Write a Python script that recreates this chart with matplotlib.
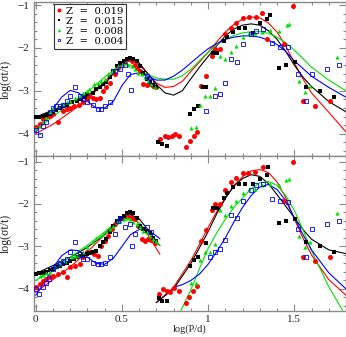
import numpy as np
import matplotlib
matplotlib.use("Agg")
import matplotlib.pyplot as plt
from matplotlib.ticker import MultipleLocator

plt.rcParams['font.family'] = ['Liberation Serif', 'DejaVu Serif']
plt.rcParams['mathtext.fontset'] = 'stix'

labels = ["Z  =  0.019", "Z  =  0.015", "Z  =  0.008", "Z  =  0.004"]
colors = ["#ff0000", "#000000", "#00e000", "#0000ff"]

# ---------------- TOP PANEL: points ----------------
top_red_x = [0.004, 0.023, 0.043, 0.062, 0.081, 0.10, 0.13, 0.16, 0.18, 0.20, 0.22, 0.25, 0.275, 0.295,
             0.31, 0.33, 0.35, 0.37, 0.39, 0.41, 0.43, 0.46, 0.48, 0.50, 0.52, 0.54, 0.556, 0.576, 0.59,
             0.605, 0.624, 0.643, 0.663, 0.682, 0.70,
             0.72, 0.75, 0.77, 0.79, 0.81, 0.83, 0.87, 0.895, 0.92, 0.935, 0.96, 0.99, 1.02, 1.04, 1.07,
             1.10, 1.135, 1.16, 1.20, 1.24, 1.28, 1.31, 1.34, 1.44, 1.49, 1.55, 1.62, 1.71]
top_red_y = [-3.85, -3.77, -3.66, -3.62, -3.58, -3.54, -3.73, -3.46, -3.42, -3.39, -3.35, -3.33, -3.27, -3.19,
             -3.12, -3.17, -3.19, -3.16, -3.00, -2.90, -2.81, -2.62, -2.46, -2.39, -2.31, -2.27, -2.31, -2.39, -2.46,
             -2.54, -2.85, -2.87, -2.85, -2.89, -2.92,
             -4.12, -4.05, -4.07, -4.05, -4.00, -4.05, -4.30, -4.16, -4.05, -3.96, -2.89, -2.66, -2.20, -2.02, -2.02,
             -1.67, -1.53, -1.42, -1.30, -1.28, -1.28, -1.18, -1.79, -1.92, -1.02, -3.24, -3.35, -3.24]

top_blk_x = [0.0, 0.02, 0.04, 0.062, 0.081, 0.10, 0.12, 0.14, 0.16, 0.18, 0.21, 0.24, 0.265, 0.285, 0.30,
             0.33, 0.35, 0.37, 0.39, 0.41, 0.43, 0.45, 0.47, 0.49, 0.51, 0.53, 0.546, 0.566, 0.585, 0.605,
             0.624, 0.643, 0.663, 0.68, 0.70,
             0.71, 0.73, 0.76, 0.895, 0.92, 0.94, 0.97, 0.99, 1.03, 1.05, 1.09, 1.11, 1.145, 1.18, 1.215,
             1.26, 1.30, 1.34, 1.36, 1.41, 1.45, 1.505, 1.57, 1.65, 1.73]
top_blk_y = [-3.62, -3.62, -3.59, -3.56, -3.54, -3.50, -3.44, -3.39, -3.35, -3.33, -3.27, -3.23, -3.19, -3.14, -3.08,
             -3.04, -2.96, -2.90, -2.85, -2.79, -2.69, -2.54, -2.42, -2.35, -2.31, -2.27, -2.23, -2.25, -2.31, -2.42,
             -2.58, -2.73, -2.79, -2.87, -2.92,
             -4.19, -4.23, -4.28, -3.54, -3.42, -3.35, -2.92, -2.92, -2.11, -2.11, -1.85, -1.74, -1.62, -1.53, -1.53,
             -1.65, -1.42, -1.33, -1.23, -2.46, -2.41, -2.34, -2.92, -3.01, -3.15]

top_grn_x = [0.004, 0.023, 0.043, 0.062, 0.081, 0.10, 0.13, 0.16, 0.18, 0.20, 0.23, 0.256, 0.275, 0.295, 0.31,
             0.34, 0.36, 0.38, 0.40, 0.42, 0.44, 0.46, 0.48, 0.50, 0.52, 0.537, 0.556, 0.576, 0.595, 0.614,
             0.634, 0.653, 0.67, 0.69,
             0.90, 0.93, 0.955, 0.98, 1.01, 1.04, 1.07, 1.10, 1.13, 1.16, 1.20, 1.24, 1.27, 1.31, 1.36,
             1.41, 1.46, 1.47, 1.53, 1.56, 1.59, 1.75]
top_grn_y = [-3.87, -3.81, -3.73, -3.64, -3.50, -3.42, -3.36, -3.31, -3.27, -3.23, -3.16, -3.12, -3.04, -3.00, -2.96,
             -2.85, -2.81, -2.77, -2.73, -2.62, -2.54, -2.46, -2.42, -2.39, -2.35, -2.39, -2.42, -2.50, -2.58, -2.62,
             -2.69, -2.77, -2.85, -2.90,
             -3.87, -3.84, -3.33, -3.12, -3.12, -2.94, -2.18, -2.27, -2.09, -1.95, -1.74, -1.65, -1.65, -1.62, -1.58,
             -1.60, -1.46, -1.44, -2.78, -3.03, -2.89, -2.22]

top_blu_x = [0.004, 0.023, 0.043, 0.062, 0.081, 0.10, 0.12, 0.14, 0.16, 0.18, 0.20, 0.23, 0.256, 0.275, 0.30,
             0.33, 0.36, 0.38, 0.40, 0.43, 0.46, 0.49, 0.52, 0.535, 0.55, 0.643, 0.67,
             0.99, 1.04, 1.07, 1.10, 1.135, 1.17, 1.20, 1.25, 1.28, 1.32, 1.37, 1.42, 1.465, 1.52, 1.57,
             1.60, 1.69, 1.76]
top_blu_y = [-3.92, -4.04, -3.81, -3.73, -3.50, -3.39, -3.36, -3.35, -3.33, -3.23, -3.12, -2.92, -3.12, -3.19, -3.27,
             -3.33, -3.42, -3.42, -3.35, -3.27, -2.54, -2.50, -2.39, -2.62, -2.99, -2.66, -2.77,
             -3.47, -3.12, -3.08, -2.81, -2.27, -2.32, -1.92, -1.67, -1.60, -1.55, -1.88, -1.97, -1.99, -2.60, -3.24,
             -2.60, -2.50, -2.39]

# ---------------- TOP PANEL: fitted curves ----------------
top_red_cx = [0.0, 0.1, 0.2, 0.3, 0.4, 0.45, 0.5, 0.55, 0.6, 0.65, 0.7, 0.75, 0.8, 0.85, 0.9, 0.95, 1.0, 1.05,
              1.1, 1.15, 1.2, 1.25, 1.3, 1.35, 1.4, 1.45, 1.5, 1.55, 1.6, 1.7, 1.8]
top_red_cy = [-4.00, -3.78, -3.50, -3.20, -2.80, -2.55, -2.35, -2.28, -2.38, -2.60, -2.82, -2.92, -2.90, -2.78,
              -2.55, -2.33, -2.10, -1.86, -1.63, -1.45, -1.33, -1.28, -1.30, -1.42, -1.63, -1.95, -2.35, -2.72,
              -3.05, -3.50, -3.96]

top_blk_cx = [0.0, 0.1, 0.2, 0.3, 0.4, 0.45, 0.5, 0.55, 0.6, 0.65, 0.7, 0.75, 0.8, 0.85, 0.9, 0.95, 1.0, 1.05,
              1.1, 1.15, 1.2, 1.25, 1.3, 1.35, 1.4, 1.45, 1.5, 1.55, 1.6, 1.7, 1.8]
top_blk_cy = [-3.61, -3.45, -3.27, -3.10, -2.85, -2.60, -2.33, -2.25, -2.35, -2.60, -2.85, -3.05, -3.10, -3.00,
              -2.72, -2.45, -2.20, -1.95, -1.72, -1.56, -1.47, -1.44, -1.47, -1.60, -1.80, -2.08, -2.40, -2.68,
              -2.90, -3.25, -3.49]

top_grn_cx = [0.0, 0.1, 0.2, 0.3, 0.4, 0.45, 0.5, 0.55, 0.6, 0.65, 0.7, 0.75, 0.8, 0.85, 0.9, 0.95, 1.0, 1.05,
              1.1, 1.15, 1.2, 1.25, 1.3, 1.35, 1.4, 1.45, 1.5, 1.55, 1.6, 1.7, 1.8]
top_grn_cy = [-3.93, -3.60, -3.30, -3.03, -2.68, -2.52, -2.40, -2.40, -2.52, -2.62, -2.70, -2.73, -2.73, -2.65,
              -2.50, -2.30, -2.10, -1.93, -1.80, -1.71, -1.65, -1.62, -1.62, -1.66, -1.75, -1.88, -2.05, -2.25,
              -2.45, -2.75, -3.00]

top_blu_cx = [0.0, 0.05, 0.1, 0.15, 0.2, 0.25, 0.3, 0.35, 0.4, 0.45, 0.5, 0.55, 0.6, 0.65, 0.7, 0.75, 0.8, 0.85,
              0.9, 0.95, 1.0, 1.05, 1.1, 1.15, 1.2, 1.25, 1.3, 1.35, 1.4, 1.45, 1.5, 1.55, 1.6, 1.7, 1.8]
top_blu_cy = [-3.96, -3.70, -3.42, -3.15, -2.99, -3.05, -3.25, -3.40, -3.40, -3.25, -2.88, -2.62, -2.58, -2.66,
              -2.75, -2.75, -2.66, -2.52, -2.35, -2.18, -2.02, -1.90, -1.80, -1.75, -1.72, -1.72, -1.75, -1.82,
              -1.92, -2.08, -2.30, -2.48, -2.66, -2.92, -3.15]

# ---------------- BOTTOM PANEL: points ----------------
bot_red_x = [0.004, 0.023, 0.043, 0.062, 0.081, 0.10, 0.13, 0.16, 0.18, 0.20, 0.23, 0.256, 0.275, 0.30, 0.32,
             0.34, 0.36, 0.38, 0.40, 0.42, 0.44, 0.46, 0.48, 0.50, 0.52, 0.537, 0.556, 0.576, 0.595, 0.614,
             0.634, 0.653, 0.67, 0.69,
             0.715, 0.74, 0.76, 0.78, 0.80, 0.83, 0.87, 0.89, 0.915, 0.935, 0.96, 0.99, 1.02, 1.04, 1.07,
             1.10, 1.135, 1.16, 1.20, 1.23, 1.27, 1.32, 1.44, 1.49, 1.55, 1.62, 1.71]
bot_red_y = [-3.96, -3.89, -3.81, -3.77, -3.73, -3.69, -3.65, -3.61, -3.73, -3.48, -3.45, -3.42, -3.26, -3.14, -3.14,
             -3.18, -3.22, -2.98, -2.87, -2.75, -2.59, -2.47, -2.40, -2.32, -2.28, -2.28, -2.32, -2.36, -2.51, -2.83,
             -2.87, -2.83, -2.85, -2.91,
             -4.11, -4.01, -4.04, -4.08, -3.99, -4.04, -4.34, -4.18, -4.06, -3.94, -2.86, -2.62, -2.15, -2.01, -2.01,
             -1.66, -1.49, -1.38, -1.26, -1.26, -1.24, -1.14, -1.92, -1.00, -3.24, -3.35, -3.24]

bot_blk_x = [0.0, 0.02, 0.04, 0.062, 0.081, 0.10, 0.12, 0.14, 0.16, 0.18, 0.20, 0.22, 0.24, 0.256, 0.275,
             0.295, 0.31, 0.33, 0.35, 0.37, 0.39, 0.41, 0.43, 0.45, 0.47, 0.49, 0.51, 0.527, 0.546, 0.566,
             0.585, 0.605, 0.624, 0.643, 0.663, 0.68, 0.70,
             0.715, 0.73, 0.76, 0.895, 0.92, 0.94, 0.99, 1.03, 1.05, 1.09, 1.11, 1.145, 1.18, 1.215,
             1.26, 1.30, 1.34, 1.35, 1.41, 1.45, 1.505, 1.57, 1.65, 1.73]
bot_blk_y = [-3.65, -3.63, -3.62, -3.59, -3.56, -3.53, -3.49, -3.45, -3.42, -3.38, -3.34, -3.30, -3.26, -3.22, -3.20,
             -3.18, -3.16, -3.14, -3.10, -2.98, -2.90, -2.83, -2.67, -2.51, -2.40, -2.32, -2.28, -2.22, -2.20, -2.22,
             -2.32, -2.51, -2.59, -2.63, -2.69, -2.79, -2.88,
             -4.22, -4.29, -4.29, -3.45, -3.33, -3.24, -2.93, -2.10, -2.10, -1.85, -1.73, -1.59, -1.52, -1.52,
             -1.54, -1.40, -1.31, -1.14, -2.44, -2.39, -2.36, -2.90, -3.00, -3.14]

bot_grn_x = [0.023, 0.043, 0.062, 0.081, 0.11, 0.14, 0.17, 0.21, 0.23, 0.246, 0.275, 0.30, 0.33, 0.35, 0.37,
             0.39, 0.41, 0.43, 0.45, 0.47, 0.49, 0.51, 0.527, 0.546, 0.566, 0.585, 0.605, 0.624, 0.643, 0.663,
             0.68, 0.70,
             0.90, 0.93, 0.955, 0.98, 1.01, 1.04, 1.07, 1.10, 1.13, 1.16, 1.20, 1.24, 1.27, 1.31, 1.36,
             1.41, 1.45, 1.47, 1.53, 1.56, 1.59, 1.75]
bot_grn_y = [-3.69, -3.67, -3.63, -3.59, -3.49, -3.42, -3.34, -3.26, -3.22, -3.20, -3.14, -3.02, -2.90, -2.79, -2.75,
             -2.71, -2.63, -2.59, -2.51, -2.43, -2.40, -2.36, -2.32, -2.36, -2.43, -2.47, -2.55, -2.63, -2.67, -2.75,
             -2.83, -2.88,
             -3.87, -3.85, -3.31, -3.12, -3.12, -2.95, -2.15, -2.25, -2.04, -1.92, -1.73, -1.64, -1.64, -1.56, -1.52,
             -1.56, -1.44, -1.42, -2.76, -3.02, -2.90, -2.22]

bot_blu_x = [0.004, 0.02, 0.04, 0.06, 0.078, 0.10, 0.12, 0.14, 0.16, 0.18, 0.20, 0.23, 0.256, 0.275, 0.30,
             0.33, 0.36, 0.38, 0.40, 0.43, 0.46, 0.48, 0.49, 0.52, 0.546, 0.556, 0.576, 0.643, 0.67,
             1.01, 1.04, 1.07, 1.10, 1.135, 1.17, 1.20, 1.25, 1.28, 1.32, 1.37, 1.42, 1.465, 1.52, 1.57,
             1.60, 1.69, 1.76]
bot_blu_y = [-4.00, -4.11, -3.96, -3.85, -3.77, -3.53, -3.45, -3.38, -3.34, -3.30, -3.14, -2.90, -3.18, -3.30, -3.30,
             -3.38, -3.42, -3.42, -3.38, -3.26, -2.71, -2.40, -2.32, -2.55, -2.47, -2.98, -2.71, -2.55, -2.67,
             -3.26, -3.14, -3.07, -2.84, -2.27, -2.32, -1.92, -1.66, -1.56, -1.54, -1.89, -1.92, -1.96, -2.60, -3.24,
             -2.60, -2.48, -2.39]

# ---------------- BOTTOM PANEL: fitted curves (two segments each) ----------------
bot_red_c1x = [0.0, 0.1, 0.2, 0.3, 0.4, 0.45, 0.5, 0.55, 0.6, 0.65, 0.7, 0.72]
bot_red_c1y = [-4.08, -3.78, -3.48, -3.13, -2.72, -2.50, -2.33, -2.30, -2.45, -2.72, -3.05, -3.18]
bot_blk_c1x = [0.0, 0.1, 0.2, 0.3, 0.4, 0.45, 0.5, 0.55, 0.6, 0.65, 0.7, 0.72]
bot_blk_c1y = [-3.64, -3.45, -3.26, -3.02, -2.72, -2.50, -2.30, -2.25, -2.35, -2.60, -2.88, -2.98]
bot_grn_c1x = [0.0, 0.1, 0.2, 0.3, 0.4, 0.45, 0.5, 0.55, 0.6, 0.65, 0.7, 0.72]
bot_grn_c1y = [-3.80, -3.52, -3.25, -2.97, -2.66, -2.48, -2.35, -2.33, -2.45, -2.65, -2.88, -2.97]
bot_blu_c1x = [0.0, 0.05, 0.1, 0.15, 0.2, 0.25, 0.3, 0.35, 0.4, 0.45, 0.5, 0.55, 0.6, 0.65, 0.7, 0.72]
bot_blu_c1y = [-4.15, -3.85, -3.50, -3.22, -3.08, -3.10, -3.25, -3.40, -3.42, -3.28, -3.00, -2.72, -2.60, -2.62,
               -2.75, -2.82]

bot_red_c2x = [0.7, 0.8, 0.9, 0.95, 1.0, 1.05, 1.1, 1.15, 1.2, 1.25, 1.3, 1.35, 1.4, 1.45, 1.5, 1.55, 1.6, 1.7, 1.8]
bot_red_c2y = [-4.32, -3.96, -3.33, -2.95, -2.55, -2.18, -1.85, -1.56, -1.36, -1.22, -1.19, -1.26, -1.48, -1.85,
               -2.35, -2.80, -3.20, -3.78, -4.15]
bot_blk_c2x = [0.7, 0.8, 0.9, 0.95, 1.0, 1.05, 1.1, 1.15, 1.2, 1.25, 1.3, 1.35, 1.4, 1.45, 1.5, 1.55, 1.6, 1.7, 1.8]
bot_blk_c2y = [-4.32, -4.00, -3.40, -3.03, -2.65, -2.23, -1.87, -1.58, -1.40, -1.31, -1.35, -1.52, -1.78, -2.05,
               -2.32, -2.60, -2.83, -3.08, -3.17]
bot_grn_c2x = [0.84, 0.9, 0.95, 1.0, 1.05, 1.1, 1.15, 1.2, 1.25, 1.3, 1.35, 1.4, 1.45, 1.5, 1.55, 1.6, 1.7, 1.78]
bot_grn_c2y = [-4.53, -4.02, -3.52, -3.05, -2.68, -2.36, -2.08, -1.86, -1.64, -1.50, -1.47, -1.56, -1.80, -2.15,
               -2.60, -3.10, -3.95, -4.50]
bot_blu_c2x = [0.8, 0.85, 0.9, 0.95, 1.0, 1.05, 1.1, 1.15, 1.2, 1.25, 1.3, 1.35, 1.4, 1.45, 1.5, 1.55, 1.6, 1.7, 1.8]
bot_blu_c2y = [-3.96, -3.90, -3.80, -3.65, -3.42, -3.12, -2.80, -2.42, -2.08, -1.80, -1.60, -1.54, -1.66, -1.92,
               -2.32, -2.72, -3.08, -3.62, -4.00]

# ---------------- FIGURE ----------------
W, H = 346, 337
fig = plt.figure(figsize=(W / 100, H / 100), dpi=100)
axl, axr = 34 / W, 1.0
ax1 = fig.add_axes([axl, 1 - 156 / H, axr - axl, 154 / H])
ax2 = fig.add_axes([axl, 1 - 311 / H, axr - axl, 155 / H])

spine_col = "#8a8a8a"

def style(ax, ylim, show_x):
    ax.set_xlim(-0.01, 1.80)
    ax.set_ylim(*ylim)
    ax.xaxis.set_major_locator(MultipleLocator(0.5))
    ax.xaxis.set_minor_locator(MultipleLocator(0.1))
    ax.yaxis.set_major_locator(MultipleLocator(1))
    ax.yaxis.set_minor_locator(MultipleLocator(0.2))
    ax.tick_params(which="both", direction="in", top=True, right=True, colors=spine_col,
                   labelcolor="#222222", labelsize=8, width=0.8)
    ax.tick_params(which="major", length=5)
    ax.tick_params(which="minor", length=2.5)
    for s in ax.spines.values():
        s.set_color(spine_col)
        s.set_linewidth(1.0)
    if not show_x:
        ax.tick_params(labelbottom=False)
    ax.set_ylabel("log(σt/t)", fontsize=8.5, color="#222222", labelpad=4)
    ax.set_yticks([-1, -2, -3, -4])
    ax.set_yticklabels(["\u22121", "\u22122", "\u22123", "\u22124"])

style(ax1, (-4.52, -0.93), False)
style(ax2, (-4.52, -0.87), True)
ax2.set_xticks([0, 0.5, 1, 1.5])
ax2.set_xticklabels(["0", "0.5", "1", "1.5"])
ax2.tick_params(axis="x", pad=3)
ax2.set_xlabel("log(P/d)", fontsize=7.5, color="#222222", labelpad=0)

lw = 0.8

def draw_points(ax, px, py, col, mk, lab=None):
    if mk == "o":
        ax.plot(px, py, ls="none", marker="o", ms=3.6, mfc=col, mec=col, mew=0, zorder=3, label=lab)
    elif mk == "x":
        ax.plot(px, py, ls="none", marker="s", ms=2.2, mfc="none", mec=col, mew=0.6, zorder=3, label=lab)
    elif mk == "^":
        ax.plot(px, py, ls="none", marker="^", ms=3.0, mfc=col, mec=col, mew=0, zorder=3, label=lab)
    else:
        ax.plot(px, py, ls="none", marker="s", ms=2.6, mfc=col, mec=col, mew=0, zorder=3, label=lab)

# top panel
for (px, py, cx, cy, col, mk, lab) in [
    (top_red_x, top_red_y, top_red_cx, top_red_cy, colors[0], "o", labels[0]),
    (top_blk_x, top_blk_y, top_blk_cx, top_blk_cy, colors[1], "s", labels[1]),
    (top_grn_x, top_grn_y, top_grn_cx, top_grn_cy, colors[2], "^", labels[2]),
    (top_blu_x, top_blu_y, top_blu_cx, top_blu_cy, colors[3], "x", labels[3]),
]:
    ax1.plot(cx, cy, color=col, lw=lw, zorder=2)
    draw_points(ax1, px, py, col, mk, lab)

# bottom panel
for (px, py, c1x, c1y, c2x, c2y, col, mk) in [
    (bot_red_x, bot_red_y, bot_red_c1x, bot_red_c1y, bot_red_c2x, bot_red_c2y, colors[0], "o"),
    (bot_blk_x, bot_blk_y, bot_blk_c1x, bot_blk_c1y, bot_blk_c2x, bot_blk_c2y, colors[1], "s"),
    (bot_grn_x, bot_grn_y, bot_grn_c1x, bot_grn_c1y, bot_grn_c2x, bot_grn_c2y, colors[2], "^"),
    (bot_blu_x, bot_blu_y, bot_blu_c1x, bot_blu_c1y, bot_blu_c2x, bot_blu_c2y, colors[3], "x"),
]:
    ax2.plot(c1x, c1y, color=col, lw=lw, zorder=2)
    ax2.plot(c2x, c2y, color=col, lw=lw, zorder=2)
    draw_points(ax2, px, py, col, mk)

leg = ax1.legend(loc="upper left", bbox_to_anchor=((54 - 34) / 312, (156 - 4) / 154),
                 borderaxespad=0, frameon=True, fancybox=False,
                 prop={"family": "DejaVu Serif", "size": 7.3},
                 handlelength=0.5, handletextpad=0.4, labelspacing=0.1, borderpad=0.25,
                 markerscale=0.8)
leg.get_frame().set_edgecolor("#333333")
leg.get_frame().set_linewidth(0.8)
leg.get_frame().set_alpha(1)

fig.savefig("out.png", dpi=100)
